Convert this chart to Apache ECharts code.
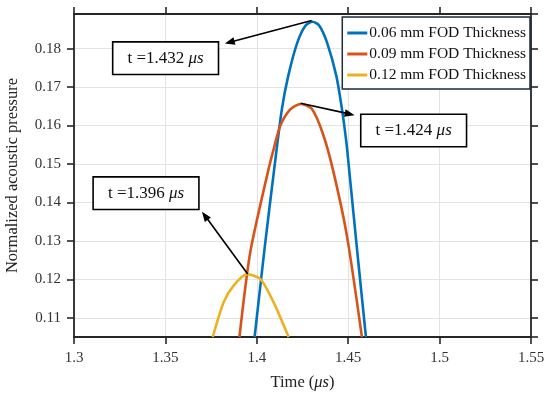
<!DOCTYPE html>
<html>
<head>
<meta charset="utf-8">
<script src="https://cdn.jsdelivr.net/npm/echarts@6/dist/echarts.min.js"></script>
<style>html,body{margin:0;padding:0;background:#fff}#c{width:550px;height:393px}</style>
</head>
<body>
<div id="c"></div>
<script>
// ---- data ----
var seriesNames = ['0.06 mm FOD Thickness', '0.09 mm FOD Thickness', '0.12 mm FOD Thickness'];
var blueData = [[1.3988,0.1050],[1.4045,0.1290],[1.4095,0.1486],[1.4137,0.1642],[1.4172,0.1729],[1.4222,0.1816],[1.4265,0.1859],[1.4305,0.1870],[1.4343,0.1859],[1.4384,0.1816],[1.4435,0.1729],[1.4466,0.1642],[1.4490,0.1556],[1.4505,0.1486],[1.4550,0.1270],[1.4597,0.1050]];
var orangeData = [[1.3905,0.1050],[1.3964,0.1270],[1.4062,0.1482],[1.4092,0.1538],[1.4128,0.1599],[1.4183,0.1642],[1.4240,0.1656],[1.4300,0.1644],[1.4362,0.1578],[1.4418,0.1482],[1.4493,0.1313],[1.4575,0.1050]];
var yellowData = [[1.3759,0.1050],[1.3818,0.1140],[1.3872,0.1183],[1.3946,0.1213],[1.4019,0.1201],[1.4092,0.1140],[1.4174,0.1050]];
var xTicks = {min: 1.3, max: 1.55, interval: 0.05};
var yRange = {min: 0.105, max: 0.189};
// annotations: arrow tail (peak), arrow head, box centre, time label
var annoPeaks = [[1.4300, 0.1873], [1.4240, 0.1658], [1.3950, 0.1214]];
var annoHeads = [[1.3825, 0.1813], [1.4535, 0.1627], [1.3700, 0.1376]];
var annoBoxes = [[1.3501, 0.1775], [1.4858, 0.1587], [1.3394, 0.1424]];
var annoText = ['1.432', '1.424', '1.396'];
var colors = ['#0072BD', '#D95319', '#EDB120'];

var serif = 'Liberation Serif, Times New Roman, serif';
var axisColor = '#262626';

function makeSeries(name, data, color) {
  return {
    name: name, type: 'line', data: data, smooth: 0.25, showSymbol: false,
    lineStyle: {color: color, width: 2.6}, itemStyle: {color: color}, clip: true, z: 3
  };
}

var arrowRows = annoPeaks.map(function (p, i) {
  return [p[0], p[1], annoHeads[i][0], annoHeads[i][1]];
});
var markPointData = annoBoxes.map(function (b, i) {
  return {coord: b, value: annoText[i]};
});

var arrowSeries = {
  type: 'custom', silent: true, z: 6,
  encode: {x: [0, 2], y: [1, 3]},
  data: arrowRows,
  renderItem: function (params, api) {
    var a = api.coord([api.value(0), api.value(1)]);
    var b = api.coord([api.value(2), api.value(3)]);
    var dx = b[0] - a[0], dy = b[1] - a[1];
    var len = Math.sqrt(dx * dx + dy * dy);
    var ux = dx / len, uy = dy / len;
    var hl = 10, hw = 3.8;
    var base = [b[0] - ux * hl, b[1] - uy * hl];
    var p1 = [base[0] - uy * hw, base[1] + ux * hw];
    var p2 = [base[0] + uy * hw, base[1] - ux * hw];
    return {
      type: 'group',
      children: [
        {type: 'line', shape: {x1: a[0], y1: a[1], x2: base[0] + ux * 2, y2: base[1] + uy * 2},
          style: {stroke: '#000', lineWidth: 1.6}},
        {type: 'polygon', shape: {points: [b, p1, p2]}, style: {fill: '#000'}}
      ]
    };
  }
};

var boxSeries = {
  type: 'line', data: [], silent: true,
  markPoint: {
    silent: true, symbol: 'rect', symbolSize: 1,
    itemStyle: {color: 'transparent'},
    label: {
      show: true, position: 'inside',
      backgroundColor: '#fff', borderColor: '#000', borderWidth: 1.6,
      padding: [7, 14, 6, 14],
      formatter: function (p) { return '{a|t =' + p.value + ' }{b|μs}'; },
      rich: {
        a: {fontFamily: serif, fontSize: 17, lineHeight: 18, color: '#111'},
        b: {fontFamily: serif, fontSize: 17, lineHeight: 18, fontStyle: 'italic', color: '#111'}
      }
    },
    data: markPointData, z: 5
  }
};

var tickStyle = {show: true, inside: false, length: 7, lineStyle: {color: axisColor, width: 1.6}};
var lineStyleAxis = {show: true, lineStyle: {color: axisColor, width: 1.8}};

var chart = echarts.init(document.getElementById('c'));
chart.setOption({
  animation: false,
  backgroundColor: '#fff',
  grid: {left: 74, right: 19, top: 14, bottom: 56, containLabel: false, outerBoundsMode: 'none'},
  legend: {
    data: seriesNames, orient: 'vertical', right: 20, top: 17,
    backgroundColor: '#fff', borderColor: '#1f2d3d', borderWidth: 1.5,
    padding: [8, 4, 6, 5], itemGap: 5, itemWidth: 20, itemHeight: 3,
    icon: 'rect',
    textStyle: {fontFamily: serif, fontSize: 15.5, color: '#111', padding: [0, 0, 0, -3]}
  },
  xAxis: [{
    type: 'value', min: xTicks.min, max: xTicks.max, interval: xTicks.interval,
    name: '{a|Time (}{b|μs}{a|)}', nameLocation: 'middle', nameGap: 37,
    nameTextStyle: {
      rich: {
        a: {fontFamily: serif, fontSize: 16.5, color: '#222'},
        b: {fontFamily: serif, fontSize: 16.5, fontStyle: 'italic', color: '#222'}
      }
    },
    axisLine: lineStyleAxis,
    axisTick: tickStyle,
    axisLabel: {fontFamily: serif, fontSize: 15, color: '#333', margin: 14,
      formatter: function (v) { return String(+v.toFixed(2)); }},
    splitLine: {show: true, lineStyle: {color: '#e3e3e3', width: 1}}
  }, {
    type: 'value', position: 'top', min: xTicks.min, max: xTicks.max, interval: xTicks.interval,
    axisLine: lineStyleAxis, axisTick: tickStyle,
    axisLabel: {show: false}, splitLine: {show: false}
  }],
  yAxis: [{
    type: 'value', min: yRange.min, max: yRange.max, splitNumber: 8,
    name: 'Normalized acoustic pressure', nameLocation: 'middle', nameGap: 53,
    nameTextStyle: {fontFamily: serif, fontSize: 16.5, color: '#222'},
    axisLine: lineStyleAxis,
    axisTick: tickStyle,
    axisLabel: {fontFamily: serif, fontSize: 15, color: '#333', margin: 13,
      showMinLabel: false, showMaxLabel: false,
      formatter: function (v) { return String(+v.toFixed(2)); }},
    splitLine: {show: true, lineStyle: {color: '#e3e3e3', width: 1}}
  }, {
    type: 'value', position: 'right', min: yRange.min, max: yRange.max, splitNumber: 8,
    axisLine: lineStyleAxis, axisTick: tickStyle,
    axisLabel: {show: false}, splitLine: {show: false}
  }],
  series: [
    makeSeries(seriesNames[0], blueData, colors[0]),
    makeSeries(seriesNames[1], orangeData, colors[1]),
    makeSeries(seriesNames[2], yellowData, colors[2]),
    boxSeries,
    arrowSeries
  ]
});
</script>
</body>
</html>
